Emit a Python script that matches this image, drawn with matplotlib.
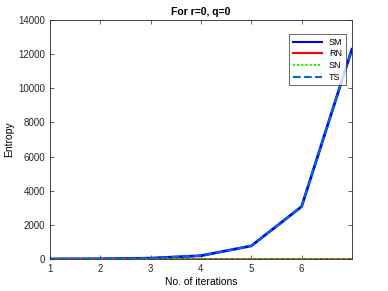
import numpy as np
import matplotlib.pyplot as plt

iterations = [1, 2, 3, 4, 5, 6, 7]
sm = [3, 12, 48, 192, 768, 3072, 12288]
rn = [0, 0, 0, 0, 0, 0, 0]
sn = [0, 0, 0, 0, 0, 0, 0]
ts = [3, 12, 48, 192, 768, 3072, 12288]

plt.rcParams['font.family'] = ['Liberation Sans', 'DejaVu Sans']
fig = plt.figure(figsize=(3.88, 2.91), dpi=100)
ax = fig.add_axes([0.129, 0.110, 0.778, 0.821])

ax.plot(iterations, sm, color=(0, 0, 1), lw=2, label='SM')
ax.plot(iterations, rn, color=(1, 0, 0), lw=2, label='RN')
ax.plot(iterations, sn, color=(0, 1, 0), lw=2, ls=(0, (1, 1)), label='SN')
ax.plot(iterations, ts, color=(0, 0.447, 0.741), lw=1.5, ls='--', label='TS')

ax.set_xlim(1, 7)
ax.set_ylim(0, 14000)
ax.set_xticks([1, 2, 3, 4, 5, 6])
ax.set_yticks(np.arange(0, 14001, 2000))
ax.tick_params(labelsize=7, direction='in', length=3, width=0.5, colors='#262626',
               top=True, right=True)
for s in ax.spines.values():
    s.set_linewidth(0.6)
    s.set_color('#262626')
ax.set_xlabel('No. of iterations', fontsize=7.5, labelpad=2)
ax.set_ylabel('Entropy', fontsize=7.5, labelpad=3)
ax.set_title('For r=0, q=0', fontsize=7.5, fontweight='bold', pad=4)

leg = ax.legend(loc='upper right', fontsize=6.5, frameon=True, fancybox=False,
                handlelength=3.2, borderpad=0.4, labelspacing=0.3,
                bbox_to_anchor=(0.995, 0.96))
leg.get_frame().set_edgecolor('#262626')
leg.get_frame().set_linewidth(0.6)
for line in leg.get_lines():
    line.set_linewidth(1.5)

fig.savefig('out.png', dpi=100)
